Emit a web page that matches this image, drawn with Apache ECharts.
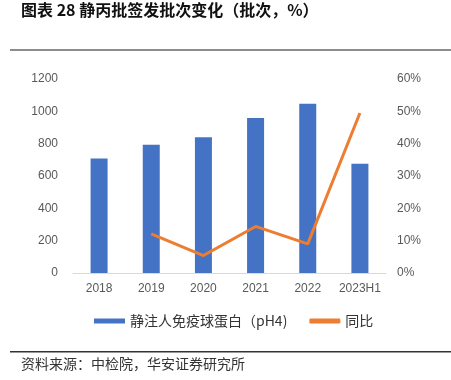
<!DOCTYPE html>
<html>
<head>
<meta charset="utf-8">
<script src="https://cdn.jsdelivr.net/npm/echarts@6/dist/echarts.min.js"></script>
<style>
  html, body { margin: 0; padding: 0; background: #fff; }
  #chart { width: 451px; height: 380px; }
</style>
</head>
<body>
<div id="chart"></div>
<script>
const categories = ['2018', '2019', '2020', '2021', '2022', '2023H1'];
const batches = [709, 794, 839, 959, 1047, 676];
// 同比, %; 2018 has no value
const yoy = [null, 12.1, 5.4, 14.4, 9.0, 49.5];
const leftTicks = [0, 1200, 200];
const rightTicks = [0, 60, 10];

const cjk = '"Noto Sans CJK SC", sans-serif';
const latin = '"Liberation Sans", Arial, sans-serif';

const chart = echarts.init(document.getElementById('chart'));

const option = {
  animation: false,
  backgroundColor: '#fff',
  textStyle: { fontFamily: latin },
  graphic: [
    {
      type: 'text', left: 21, top: 2,
      style: { text: '图表 28 静丙批签发批次变化（批次，%）', font: 'bold 16px ' + cjk, fill: '#111' },
    },
    {
      type: 'rect', shape: { x: 10, y: 49, width: 441, height: 2 },
      style: { fill: '#8c8c8c' },
    },
    {
      type: 'rect', shape: { x: 10, y: 351, width: 441, height: 1.5 },
      style: { fill: '#333' },
    },
    {
      type: 'text', left: 21, top: 357,
      style: { text: '资料来源：中检院，华安证券研究所', font: '14px ' + cjk, fill: '#333' },
    },
  ],
  legend: {
    top: 309,
    left: 89,
    itemWidth: 31,
    itemHeight: 5,
    itemGap: 22,
    textStyle: { fontFamily: cjk, fontSize: 14, color: '#333' },
    data: [
      { name: '静注人免疫球蛋白（pH4)', icon: 'rect' },
      { name: '同比', icon: 'roundRect' },
    ],
  },
  grid: { left: 73, right: 65, top: 79, bottom: 107 },
  xAxis: {
    type: 'category',
    data: categories,
    axisLine: { lineStyle: { color: '#d9d9d9', width: 1 } },
    axisTick: { show: false },
    axisLabel: { color: '#595959', fontSize: 12, margin: 10, interval: 0 },
  },
  yAxis: [
    {
      type: 'value',
      min: leftTicks[0], max: leftTicks[1], interval: leftTicks[2],
      splitLine: { show: false },
      axisLine: { show: false },
      axisTick: { show: false },
      axisLabel: { color: '#595959', fontSize: 12, margin: 15, formatter: (v) => String(v) },
    },
    {
      type: 'value',
      min: rightTicks[0], max: rightTicks[1], interval: rightTicks[2],
      splitLine: { show: false },
      axisLine: { show: false },
      axisTick: { show: false },
      axisLabel: { color: '#595959', fontSize: 12, margin: 11, formatter: '{value}%' },
    },
  ],
  series: [
    {
      name: '静注人免疫球蛋白（pH4)',
      type: 'bar',
      data: batches,
      barWidth: 17,
      itemStyle: { color: '#4472C4' },
    },
    {
      name: '同比',
      type: 'line',
      yAxisIndex: 1,
      data: yoy,
      symbol: 'none',
      lineStyle: { color: '#ED7D31', width: 3 },
      itemStyle: { color: '#ED7D31' },
    },
  ],
};

chart.setOption(option);
</script>
</body>
</html>
